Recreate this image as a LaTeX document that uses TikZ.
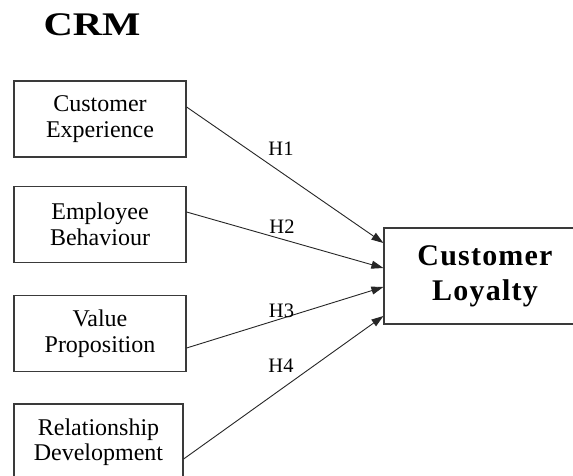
\documentclass[tikz,border=0pt]{standalone}
\usepackage{fontspec}
\setmainfont{Liberation Serif}
\usetikzlibrary{arrows.meta}
\definecolor{edge}{HTML}{3A3A3A}
\tikzset{
  factor/.style={draw=edge, line width=1.2pt, minimum width=172pt, minimum height=76pt,
    inner sep=0pt, align=center, font=\fontsize{24}{25.5}\selectfont},
  outcome/.style={draw=edge, line width=1.2pt, minimum width=202pt, minimum height=96pt,
    inner sep=0pt, align=center,
    font=\fontsize{30}{35}\selectfont\bfseries\addfontfeatures{LetterSpace=4}},
  link/.style={draw=black!85, line width=0.9pt, -{Triangle[length=12pt,width=8pt]}},
  hyp/.style={font=\fontsize{20.5}{22}\selectfont, anchor=base}
}
\begin{document}
\begin{tikzpicture}[x=1pt,y=1pt]
  \useasboundingbox (0,0) rectangle (573,-476);
  \clip (0,0) rectangle (573,-476);
  \fill[white] (0,0) rectangle (573,-476);

  \node[anchor=base, font=\fontsize{33}{38}\selectfont\bfseries\addfontfeatures{FakeStretch=1.23}]
    (title) at (92,-36) {CRM};

  \node[factor] (ce) at (100,-119) {Customer\\Experience};
  \node[factor] (eb) at (100,-224.5) {Employee\\Behaviour};
  \node[factor] (vp) at (100,-333.5) {Value\\Proposition};
  \node[factor, minimum width=169pt] (rd) at (98.5,-442) {Relationship\\Development};

  \node[outcome] (cl) at (485,-276) {Customer\\Loyalty};

  \draw[link] ([yshift=12pt]ce.east) -- ([yshift=33pt]cl.west);
  \draw[link] ([yshift=12.5pt]eb.east) -- ([yshift=8pt]cl.west);
  \draw[link] ([yshift=-14.5pt]vp.east) -- ([yshift=-11pt]cl.west);
  \draw[link] ([yshift=-17pt]rd.east) -- ([yshift=-40pt]cl.west);

  \node[hyp] (h1) at (281,-155.5) {H1};
  \node[hyp] (h2) at (282,-233) {H2};
  \node[hyp] (h3) at (281.5,-317) {H3};
  \node[hyp] (h4) at (281,-372) {H4};
\end{tikzpicture}
\end{document}
